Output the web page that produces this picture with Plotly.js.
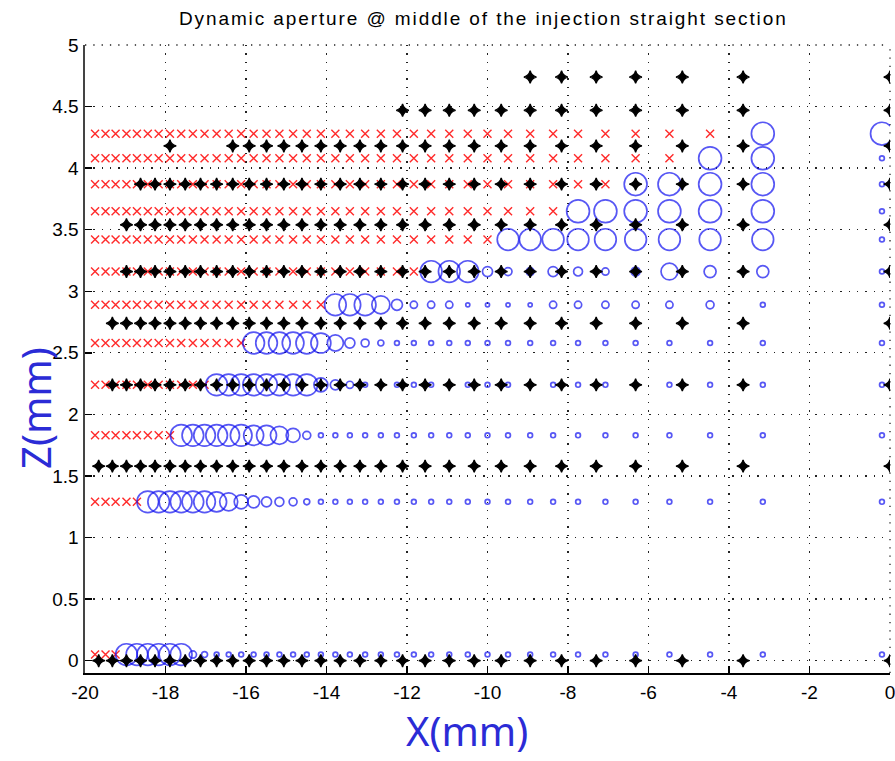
<!DOCTYPE html>
<html>
<head>
<meta charset="utf-8">
<script src="https://cdn.plot.ly/plotly-3.0.1.min.js"></script>
<style>
  html, body { margin: 0; padding: 0; background: #fff; }
  #chart { width: 895px; height: 761px; }
  #chart .gtitle { letter-spacing: 1.9px; }
</style>
</head>
<body>
<div id="chart"></div>
<script>
// Tracking grid, frequency-map run: horizontal start amplitudes (mm), index 0 is nearest the axis
const ringX = [-0.2, -3.16, -4.47, -5.48, -6.32, -7.07, -7.75, -8.37, -8.94, -9.49,
  -10.00, -10.49, -10.95, -11.40, -11.83, -12.25, -12.65, -13.04, -13.42, -13.78,
  -14.14, -14.49, -14.83, -15.17, -15.49, -15.81, -16.12, -16.43, -16.73, -17.03,
  -17.32, -17.61, -17.89, -18.17, -18.44, -18.71, -18.97, -19.24, -19.49, -19.75];

// Vertical start amplitudes (mm) of the same run
const ringZ = [0.05, 1.29, 1.83, 2.24, 2.58, 2.89, 3.16, 3.42, 3.65, 3.87, 4.08, 4.28];

// Tune spread of surviving particles per row (column order as ringX);
// columns past the end of a row were lost
const ringSpread = [
  [2,2,2,2,2,2,2,2,2,2, 2,2,2,2,2,2,2,2,2,2, 2,2,2,2,2,2,2,2,2,2.5, 3,9,9,9,9,9,9],
  [2,2,2,2,2,2,2,2,2,2, 2,2,2,2,2,2,2,2,2,2, 2,2.5,3.3,3.7,4.2,5,5.8,7.5,8.3,9, 9,9,9,9,9],
  [2,2,2,2,2,2,2,2,2,2, 2,2,2,2,2,2,2,2,2,2, 2,3.3,5.8,7.5,8.3,8.3,9,9,9,9, 9,9],
  [2,2,2,2,2,2,2,2,2,2, 2,2,2,2,2,2,2,2,3,4.2, 5.8,9,9,9,9,9,9,9,9],
  [2,2,2,2,2,2,2,2,2,2, 2,2,2,2,2,2,2.5,3.3,4.2,6.7, 8.3,9,9,9,9,9],
  [2,2,3.3,3,3,3,3,3,1.7,1.7, 1.7,1.7,3,3,3,4.6,7.5,9,9,9],
  [2,5,5,7,3.7,3,3.7,4.2,3.3,3.3, 4.2,9,9,9],
  [2,9,9,9,9,9,9,9,9,9],
  [2,9.5,9.5,9.5,9.5,9.5,9.5],
  [2,9.5,9.5,9.5,9.5],
  [2,9.5,9.5],
  [9.5,9.5]
];

// Second tracking run: horizontal and vertical amplitudes (mm)
const dotX = [0, -3.65, -5.16, -6.32, -7.30, -8.16, -8.94, -9.66, -10.33, -10.95,
  -11.55, -12.11, -12.65, -13.17, -13.66, -14.14, -14.61, -15.06, -15.49, -15.92,
  -16.33, -16.73, -17.13, -17.51, -17.89, -18.26, -18.62, -18.97, -19.32, -19.66];
const dotZ = [0, 1.58, 2.24, 2.74, 3.16, 3.54, 3.87, 4.18, 4.47, 4.74];

// Last surviving column (index into dotX) of each dotZ row, plus isolated survivors [row, column]
const dotReach = [29, 29, 28, 28, 27, 27, 26, 20, 11, 6];
const dotIsolated = [[7, 24]];

// Axis ticks
const xTicks = [-20, -18, -16, -14, -12, -10, -8, -6, -4, -2, 0];
const xTickText = ['-20', '-18', '-16', '-14', '-12', '-10', '-8', '-6', '-4', '-2', '0'];
const zTicks = [0, 0.5, 1, 1.5, 2, 2.5, 3, 3.5, 4, 4.5, 5];
const zTickText = ['0', '0.5', '1', '1.5', '2', '2.5', '3', '3.5', '4', '4.5', '5'];

// Split the frequency-map grid into lost and surviving particles
const lost = { x: [], y: [] };
const kept = { x: [], y: [], s: [] };
ringZ.forEach((z, r) => {
  ringX.forEach((x, c) => {
    const v = ringSpread[r][c];
    if (v === undefined) { lost.x.push(x); lost.y.push(z); }
    else { kept.x.push(x); kept.y.push(z); kept.s.push(v * 2.4); }
  });
});

const dots = { x: [], y: [] };
dotZ.forEach((z, r) => {
  for (let c = 0; c <= dotReach[r]; c++) { dots.x.push(dotX[c]); dots.y.push(z); }
});
dotIsolated.forEach(([r, c]) => { dots.x.push(dotX[c]); dots.y.push(dotZ[r]); });

const tickFont = { family: 'Liberation Sans, Arial, sans-serif', size: 19, color: '#000' };
const labelFont = { family: 'Noto Sans, sans-serif', size: 40, color: '#2b2bd6' };
const gridDash = '1.3px,7px';

const traces = [
  {
    type: 'scatter', mode: 'markers', x: lost.x, y: lost.y, hoverinfo: 'skip',
    marker: { symbol: 'x-thin-open', size: 8, color: '#ff2a2a', line: { width: 1.4, color: '#ff2a2a' } }
  },
  {
    type: 'scatter', mode: 'markers', x: kept.x, y: kept.y, hoverinfo: 'skip',
    marker: { symbol: 'circle-open', size: kept.s, color: '#1010f0', line: { width: 1.7, color: '#1010f0' } }
  },
  {
    type: 'scatter', mode: 'markers', x: dots.x, y: dots.y, hoverinfo: 'skip',
    marker: { symbol: 'star-diamond', size: 9, color: '#000', line: { width: 1.3, color: '#000' } }
  }
];

const layout = {
  width: 895, height: 761,
  margin: { l: 85, r: 5, t: 45, b: 88 },
  paper_bgcolor: '#fff', plot_bgcolor: '#fff',
  showlegend: false,
  title: {
    text: 'Dynamic aperture @ middle of the injection straight section',
    font: { family: 'Liberation Sans, Arial, sans-serif', size: 19, color: '#000' },
    x: 0.54, xanchor: 'center', xref: 'container',
    y: 1 - 18 / 761, yanchor: 'middle', yref: 'container'
  },
  xaxis: {
    range: [-20, 0], tickmode: 'array', tickvals: xTicks, ticktext: xTickText,
    tickfont: tickFont, ticks: 'inside', ticklen: 7, tickwidth: 1.5, tickcolor: '#000',
    ticklabeloverflow: 'allow', ticklabelstandoff: 2,
    showline: true, linecolor: '#000', linewidth: 1.5, mirror: false,
    showgrid: true, gridcolor: '#222', gridwidth: 1.3, griddash: gridDash,
    zeroline: false, fixedrange: true
  },
  yaxis: {
    range: [-0.1, 5], tickmode: 'array', tickvals: zTicks, ticktext: zTickText,
    tickfont: tickFont, ticks: 'inside', ticklen: 7, tickwidth: 1.5, tickcolor: '#000',
    ticklabeloverflow: 'allow',
    showline: true, linecolor: '#444', linewidth: 2.5, mirror: false,
    showgrid: true, gridcolor: '#222', gridwidth: 1.3, griddash: gridDash,
    zeroline: false, fixedrange: true
  },
  // Grid lines along the upper and right plot edges
  shapes: [
    { type: 'line', xref: 'paper', yref: 'paper', x0: 0, x1: 1, y0: 1, y1: 1, layer: 'below',
      line: { color: '#222', width: 1.3, dash: gridDash } },
    { type: 'line', xref: 'paper', yref: 'paper', x0: 1, x1: 1, y0: 0, y1: 1, layer: 'below',
      line: { color: '#222', width: 1.3, dash: gridDash } }
  ],
  annotations: [
    {
      text: 'X(mm)', xref: 'paper', yref: 'paper', x: (467 - 85) / 805, y: (673 - 730) / 628,
      xanchor: 'center', yanchor: 'middle', showarrow: false, font: labelFont
    },
    {
      text: 'Z(mm)', xref: 'paper', yref: 'paper', x: (35 - 85) / 805, y: (673 - 408) / 628,
      xanchor: 'center', yanchor: 'middle', showarrow: false, textangle: -90, font: labelFont
    }
  ]
};

Plotly.newPlot('chart', traces, layout, { displayModeBar: false, staticPlot: true });
</script>
</body>
</html>
